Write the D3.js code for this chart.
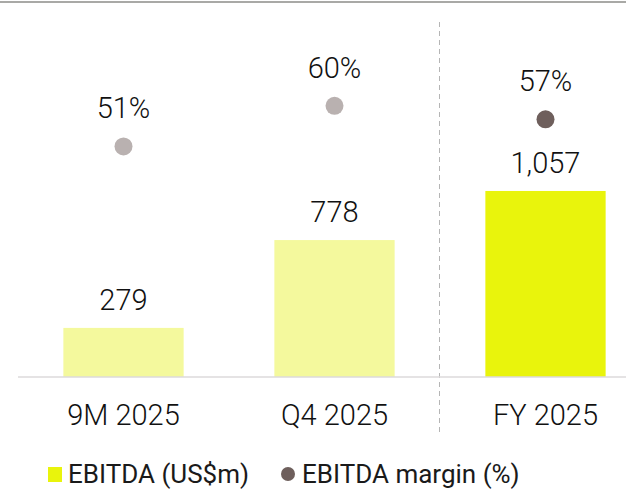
<!DOCTYPE html>
<html>
<head>
<meta charset="utf-8">
<script src="https://cdn.jsdelivr.net/npm/d3@7"></script>
<style>
  html, body { margin: 0; padding: 0; background: #fff; }
  svg { display: block; font-family: Roboto, "Noto Sans", sans-serif; font-weight: 300; }
</style>
</head>
<body>
<div id="chart"></div>
<script>
// chart data
const categories = ["9M 2025", "Q4 2025", "FY 2025"];
const ebitda = [279, 778, 1057];
const ebitdaLabels = ["279", "778", "1,057"];
const margins = [51, 60, 57];
const barColors = ["#f4f99d", "#f4f99d", "#e9f40c"];
const dotColors = ["#b9b1b0", "#b9b1b0", "#6e5f5c"];
const legendItems = ["EBITDA (US$m)", "EBITDA margin (%)"];

const width = 626;
const height = 489;
const baseY = 377;

const svg = d3.select("#chart")
  .append("svg")
  .attr("width", width)
  .attr("height", height);

// scales
const x = d3.scaleBand()
  .domain(categories)
  .range([18, 651])
  .paddingInner(0.43)
  .paddingOuter(0.215);

const yBar = d3.scaleLinear().domain([0, 2000]).range([baseY, 25]);
const yMargin = d3.scaleLinear().domain([0, 100]).range([baseY, -75]);

// top rule
svg.append("line")
  .attr("x1", 0).attr("x2", width)
  .attr("y1", 2).attr("y2", 2)
  .attr("stroke", "#a9a9a6")
  .attr("stroke-width", 2);

// separator between quarter and full year
svg.append("line")
  .attr("x1", 439.5).attr("x2", 439.5)
  .attr("y1", 22).attr("y2", 433)
  .attr("stroke", "#b5b5b5")
  .attr("stroke-width", 1)
  .attr("stroke-dasharray", "5,4");

// bars
svg.selectAll(".bar")
  .data(categories)
  .enter()
  .append("rect")
  .attr("class", "bar")
  .attr("x", d => x(d))
  .attr("width", x.bandwidth())
  .attr("y", (d, i) => yBar(ebitda[i]))
  .attr("height", (d, i) => baseY - yBar(ebitda[i]))
  .attr("fill", (d, i) => barColors[i]);

// baseline
svg.append("line")
  .attr("x1", 18).attr("x2", width)
  .attr("y1", baseY).attr("y2", baseY)
  .attr("stroke", "#dcdadb")
  .attr("stroke-width", 1.5);

// bar value labels
svg.selectAll(".val")
  .data(categories)
  .enter()
  .append("text")
  .attr("class", "val")
  .attr("x", d => x(d) + x.bandwidth() / 2)
  .attr("y", (d, i) => yBar(ebitda[i]) - 18)
  .attr("text-anchor", "middle")
  .style("font-size", "29px")
  .style("fill", "#111")
  .text((d, i) => ebitdaLabels[i]);

// margin dots
svg.selectAll(".dot")
  .data(categories)
  .enter()
  .append("circle")
  .attr("class", "dot")
  .attr("cx", d => x(d) + x.bandwidth() / 2)
  .attr("cy", (d, i) => yMargin(margins[i]))
  .attr("r", 9)
  .attr("fill", (d, i) => dotColors[i]);

svg.selectAll(".pct")
  .data(categories)
  .enter()
  .append("text")
  .attr("class", "pct")
  .attr("x", d => x(d) + x.bandwidth() / 2)
  .attr("y", (d, i) => yMargin(margins[i]) - 28)
  .attr("text-anchor", "middle")
  .style("font-size", "29px")
  .style("fill", "#111")
  .text((d, i) => margins[i] + "%");

// category labels
svg.selectAll(".cat")
  .data(categories)
  .enter()
  .append("text")
  .attr("class", "cat")
  .attr("x", d => x(d) + x.bandwidth() / 2)
  .attr("y", 425)
  .attr("text-anchor", "middle")
  .style("font-size", "29px")
  .style("fill", "#111")
  .text(d => d);

// legend
const legend = svg.append("g").attr("transform", "translate(0,474)");

legend.append("rect")
  .attr("x", 48).attr("y", -7)
  .attr("width", 14).attr("height", 15)
  .attr("fill", barColors[2]);

legend.append("text")
  .attr("x", 68).attr("y", 9)
  .style("font-size", "26px")
  .style("font-weight", 400)
  .style("fill", "#1a1a1a")
  .text(legendItems[0]);

legend.append("circle")
  .attr("cx", 288).attr("cy", 0)
  .attr("r", 7)
  .attr("fill", dotColors[2]);

legend.append("text")
  .attr("x", 302).attr("y", 9)
  .style("font-size", "26px")
  .style("font-weight", 400)
  .style("fill", "#1a1a1a")
  .text(legendItems[1]);
</script>
</body>
</html>
